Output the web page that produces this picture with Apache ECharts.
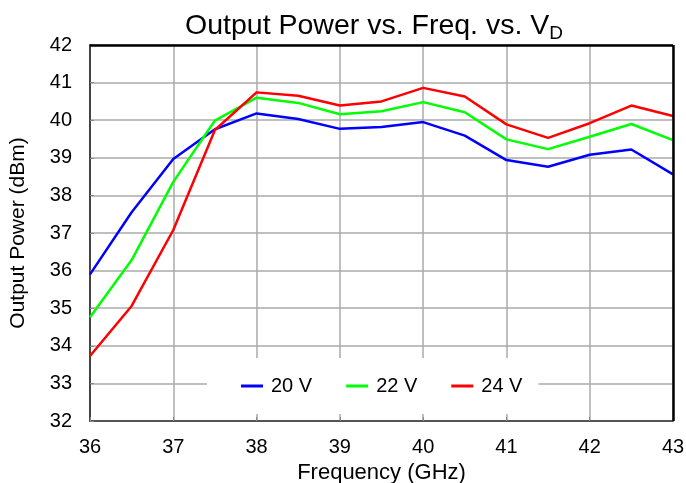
<!DOCTYPE html>
<html><head><meta charset="utf-8">
<script src="https://cdn.jsdelivr.net/npm/echarts@6/dist/echarts.min.js"></script>
<style>html,body{margin:0;padding:0;background:#fff}#c{width:686px;height:483px}</style>
</head><body><div id="c"></div>
<script>
const freqs = [36,36.5,37,37.5,38,38.5,39,39.5,40,40.5,41,41.5,42,42.5,43];
const v20 = [35.9,37.55,38.97,39.76,40.18,40.03,39.77,39.82,39.95,39.59,38.94,38.76,39.08,39.22,38.56];
const v22 = [34.76,36.28,38.36,39.99,40.6,40.46,40.16,40.24,40.48,40.21,39.49,39.23,39.56,39.9,39.47];
const v24 = [33.73,35.06,37.08,39.74,40.74,40.65,40.39,40.5,40.86,40.63,39.89,39.53,39.92,40.39,40.11];
const seriesNames = ['20 V','22 V','24 V'];
const colors = ['#0000ff','#00ff00','#ff0000'];
const font = 'Liberation Sans, Arial, Helvetica, sans-serif';
const pairs = a => a.map((v,i)=>[freqs[i],v]);
const chart = echarts.init(document.getElementById('c'));
chart.setOption({
  animation:false,
  textStyle:{fontFamily:font},
  title:{
    text:'Output Power vs. Freq. vs. V{s|D}',
    left:369, textAlign:'center', top:5,
    textStyle:{fontFamily:font,fontSize:28.5,fontWeight:'normal',color:'#000',
      rich:{s:{fontFamily:font,fontSize:19,verticalAlign:'bottom',padding:[14,0,0,0],color:'#000'}}}
  },
  legend:{
    data:seriesNames, left:207, top:358,
    padding:[18,16,18,34], backgroundColor:'#fff',
    itemWidth:22, itemHeight:3, itemGap:34, icon:'rect',
    textStyle:{fontFamily:font,fontSize:20,color:'#000',padding:[0,0,0,3]}
  },
  grid:{left:90,right:13,top:45,bottom:62,containLabel:false,outerBoundsMode:'none'},
  xAxis:{
    type:'value',min:36,max:43,interval:1,
    name:'Frequency (GHz)',nameLocation:'middle',nameGap:32,
    nameTextStyle:{fontFamily:font,fontSize:22,color:'#000'},
    axisLine:{show:true,lineStyle:{color:'#555',width:2}},
    axisTick:{show:true,inside:true,length:4,lineStyle:{color:'#888'}},
    axisLabel:{fontFamily:font,fontSize:20,color:'#000',margin:16},
    splitLine:{show:true,lineStyle:{color:'#aaa',width:1.5}}
  },
  yAxis:{
    type:'value',min:32,max:42,interval:1,
    name:'Output Power (dBm)',nameLocation:'middle',nameGap:61,
    nameTextStyle:{fontFamily:font,fontSize:21,color:'#000'},
    axisLine:{show:true,lineStyle:{color:'#444',width:2}},
    axisTick:{show:true,inside:true,length:4,lineStyle:{color:'#888'}},
    axisLabel:{fontFamily:font,fontSize:20,color:'#000',margin:18},
    splitLine:{show:true,lineStyle:{color:'#aaa',width:1.5}}
  },
  series:[
    {name:seriesNames[0],type:'line',data:pairs(v20),symbol:'none',lineStyle:{width:2.5,color:colors[0]},itemStyle:{color:colors[0]}},
    {name:seriesNames[1],type:'line',data:pairs(v22),symbol:'none',lineStyle:{width:2.5,color:colors[1]},itemStyle:{color:colors[1]}},
    {name:seriesNames[2],type:'line',data:pairs(v24),symbol:'none',lineStyle:{width:2.5,color:colors[2]},itemStyle:{color:colors[2]}},
    {type:'line',data:[],markLine:{silent:true,symbol:'none',label:{show:false},
      lineStyle:{color:'#000',width:2.5,type:'solid'},data:[[{coord:[43,32]},{coord:[43,42]}],[{coord:[36,42]},{coord:[43,42]}]]}}
  ]
});
</script></body></html>
